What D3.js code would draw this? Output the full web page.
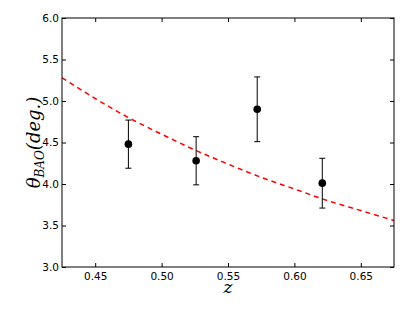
<!DOCTYPE html>
<html>
<head>
<meta charset="utf-8">
<script src="https://cdn.jsdelivr.net/npm/d3@7"></script>
<style>
  body { margin: 0; background: #fff; }
  svg text { font-family: "DejaVu Sans", sans-serif; }
</style>
</head>
<body>
<div id="viz"></div>
<script>
// measurements with error bars
const zData = [0.475, 0.526, 0.572, 0.621];
const thetaData = [4.48, 4.28, 4.90, 4.01];
const thetaErr = [0.29, 0.29, 0.39, 0.30];

// model curve
const zModel = [0.425, 0.45, 0.475, 0.50, 0.525, 0.55, 0.575, 0.60, 0.625, 0.65, 0.675];
const thetaModel = [5.28, 5.03, 4.80, 4.60, 4.41, 4.24, 4.08, 3.94, 3.80, 3.68, 3.56];

const xTicks = [0.45, 0.50, 0.55, 0.60, 0.65];
const yTicks = [3.0, 3.5, 4.0, 4.5, 5.0, 5.5, 6.0];

const width = 415, height = 311;
const margin = { top: 18, right: 21, bottom: 44, left: 62 };

const svg = d3.select('#viz')
  .append('svg')
  .attr('width', width)
  .attr('height', height);

const x = d3.scaleLinear()
  .domain([0.425, 0.675])
  .range([margin.left, width - margin.right]);

const y = d3.scaleLinear()
  .domain([3.0, 6.0])
  .range([height - margin.bottom, margin.top]);

// clip for the model line
svg.append('clipPath')
  .attr('id', 'plotclip')
  .append('rect')
  .attr('x', margin.left)
  .attr('y', margin.top)
  .attr('width', width - margin.left - margin.right)
  .attr('height', height - margin.top - margin.bottom);

const line = d3.line()
  .curve(d3.curveMonotoneX)
  .x(d => x(d[0]))
  .y(d => y(d[1]));

svg.append('path')
  .datum(zModel.map((z, i) => [z, thetaModel[i]]))
  .attr('clip-path', 'url(#plotclip)')
  .attr('fill', 'none')
  .attr('stroke', '#ff0000')
  .attr('stroke-width', 1.5)
  .attr('stroke-dasharray', '5,4')
  .attr('d', line);

const pts = zData.map((z, i) => ({ z, t: thetaData[i], e: thetaErr[i] }));

const bars = svg.selectAll('.ebar')
  .data(pts)
  .enter()
  .append('g')
  .attr('class', 'ebar')
  .attr('stroke', '#000')
  .attr('stroke-width', 1);

bars.append('line')
  .attr('x1', d => x(d.z)).attr('x2', d => x(d.z))
  .attr('y1', d => y(d.t - d.e)).attr('y2', d => y(d.t + d.e));
bars.append('line')
  .attr('x1', d => x(d.z) - 3).attr('x2', d => x(d.z) + 3)
  .attr('y1', d => y(d.t + d.e)).attr('y2', d => y(d.t + d.e));
bars.append('line')
  .attr('x1', d => x(d.z) - 3).attr('x2', d => x(d.z) + 3)
  .attr('y1', d => y(d.t - d.e)).attr('y2', d => y(d.t - d.e));

svg.selectAll('.dot')
  .data(pts)
  .enter()
  .append('circle')
  .attr('class', 'dot')
  .attr('cx', d => x(d.z))
  .attr('cy', d => y(d.t))
  .attr('r', 3.8)
  .attr('fill', '#000');

// axes, ticks pointing inward on all four sides
const yBottom = height - margin.bottom, yTop = margin.top;
const xLeft = margin.left, xRight = width - margin.right;

const xAxis = svg.append('g')
  .attr('transform', `translate(0,${yBottom})`)
  .call(d3.axisBottom(x).tickValues(xTicks).tickFormat(d3.format('.2f')).tickSizeInner(-4).tickSizeOuter(0).tickPadding(6));
const xAxisTop = svg.append('g')
  .attr('transform', `translate(0,${yTop})`)
  .call(d3.axisTop(x).tickValues(xTicks).tickFormat('').tickSizeInner(-4).tickSizeOuter(0));
const yAxis = svg.append('g')
  .attr('transform', `translate(${xLeft},0)`)
  .call(d3.axisLeft(y).tickValues(yTicks).tickFormat(d3.format('.1f')).tickSizeInner(-4).tickSizeOuter(0).tickPadding(3));
const yAxisRight = svg.append('g')
  .attr('transform', `translate(${xRight},0)`)
  .call(d3.axisRight(y).tickValues(yTicks).tickFormat('').tickSizeInner(-4).tickSizeOuter(0));

[xAxis, xAxisTop, yAxis, yAxisRight].forEach(g => {
  g.select('.domain').remove();
  g.selectAll('.tick line').attr('stroke', '#000');
  g.selectAll('text')
    .attr('fill', '#000')
    .style('font-size', '10.5px')
    .style('font-family', '"DejaVu Sans", sans-serif');
});

svg.append('rect')
  .attr('x', xLeft)
  .attr('y', yTop)
  .attr('width', xRight - xLeft)
  .attr('height', yBottom - yTop)
  .attr('fill', 'none')
  .attr('stroke', '#000')
  .attr('stroke-width', 1);

// labels
svg.append('text')
  .attr('x', (xLeft + xRight) / 2)
  .attr('y', 293)
  .attr('text-anchor', 'middle')
  .style('font-family', '"DejaVu Serif", serif')
  .style('font-style', 'italic')
  .style('font-size', '17px')
  .text('z');

const yl = svg.append('text')
  .attr('transform', `translate(40,${(yTop + yBottom) / 2}) rotate(-90)`)
  .attr('text-anchor', 'middle')
  .style('font-family', '"DejaVu Serif", serif')
  .style('font-style', 'italic')
  .style('font-size', '18px');
yl.append('tspan').text('θ');
yl.append('tspan').attr('dy', 4).style('font-size', '12px').text('BAO');
yl.append('tspan').attr('dy', -4).text('(deg.)');
</script>
</body>
</html>
